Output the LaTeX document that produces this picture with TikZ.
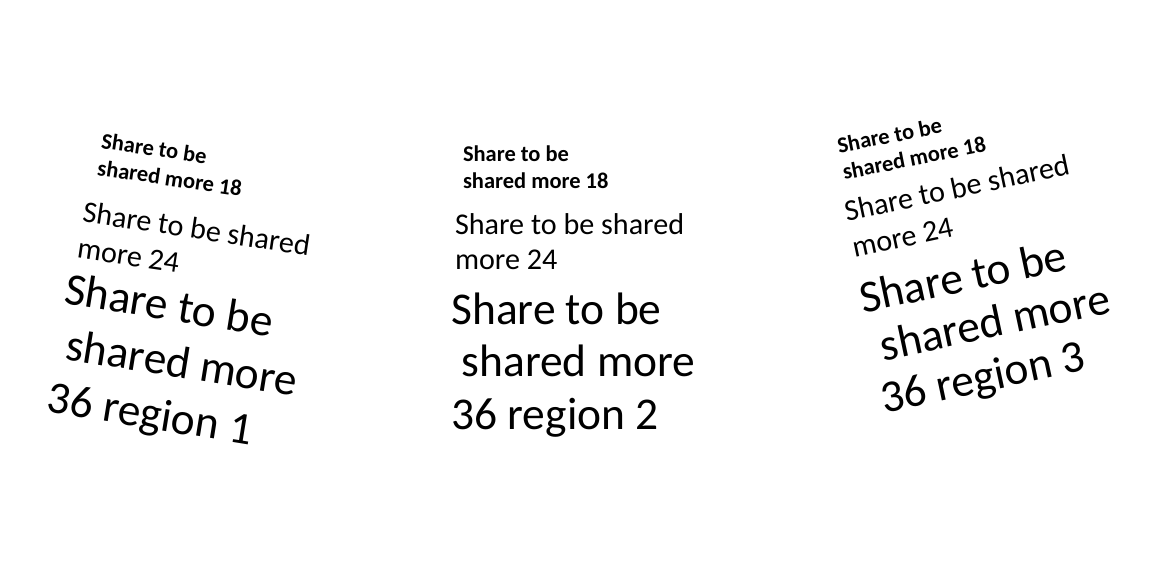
\documentclass[tikz,border=0pt]{standalone}
\usepackage{fontspec}
\setmainfont{Carlito}
\begin{document}
\begin{tikzpicture}[x=0.75pt,y=-0.75pt,
  tbase/.style={anchor=base west, inner sep=0pt, outer sep=0pt, text=black},
  tsmall/.style={tbase, font=\fontsize{16.85}{20}\selectfont\bfseries},
  tmid/.style={tbase, font=\fontsize{22.6}{27}\selectfont},
  tbig/.style={tbase, font=\fontsize{34.1}{40}\selectfont}]
\useasboundingbox[fill=white] (0,0) rectangle (1167,578);

% region 1
\begin{scope}[shift={(100.7,148.3)}, rotate=-8.5, transform shape]
  \node[tsmall] (r1a) at (0,0) {Share to be};
  \node[tsmall] (r1b) at (0,27) {shared more 18};
\end{scope}
\begin{scope}[shift={(81.8,221.7)}, rotate=-8.5, transform shape]
  \node[tmid] (r1c) at (0,0) {Share to be shared};
  \node[tmid] (r1d) at (0,36.5) {more 24};
\end{scope}
\begin{scope}[shift={(63,303.3)}, rotate=-9.2, transform shape]
  \node[tbig] (r1e) at (0,0) {Share to be};
  \node[tbig] (r1f) at (0,55) {\ shared more};
  \node[tbig] (r1g) at (0,110) {36 region 1};
\end{scope}

% region 2
\node[tsmall] (r2a) at (463,161.7) {Share to be};
\node[tsmall] (r2b) at (463,188.5) {shared more 18};
\node[tmid] (r2c) at (455,234) {Share to be shared};
\node[tmid] (r2d) at (455,269) {more 24};
\node[tbig] (r2e) at (451.3,324) {Share to be};
\node[tbig] (r2f) at (451.3,376.7) {\ shared more};
\node[tbig] (r2g) at (451.3,429.3) {36 region 2};

% region 3
\begin{scope}[shift={(839,153.3)}, rotate=11.2, transform shape]
  \node[tsmall] (r3a) at (0,0) {Share to be};
  \node[tsmall] (r3b) at (0,27) {shared more 18};
\end{scope}
\begin{scope}[shift={(846.8,221.7)}, rotate=12, transform shape]
  \node[tmid] (r3c) at (0,0) {Share to be shared};
  \node[tmid] (r3d) at (0,37) {more 24};
\end{scope}
\begin{scope}[shift={(863,313.3)}, rotate=12, transform shape]
  \node[tbig] (r3e) at (0,0) {Share to be};
  \node[tbig] (r3f) at (0,51) {\ shared more};
  \node[tbig] (r3g) at (0,102) {36 region 3};
\end{scope}
\end{tikzpicture}
\end{document}
